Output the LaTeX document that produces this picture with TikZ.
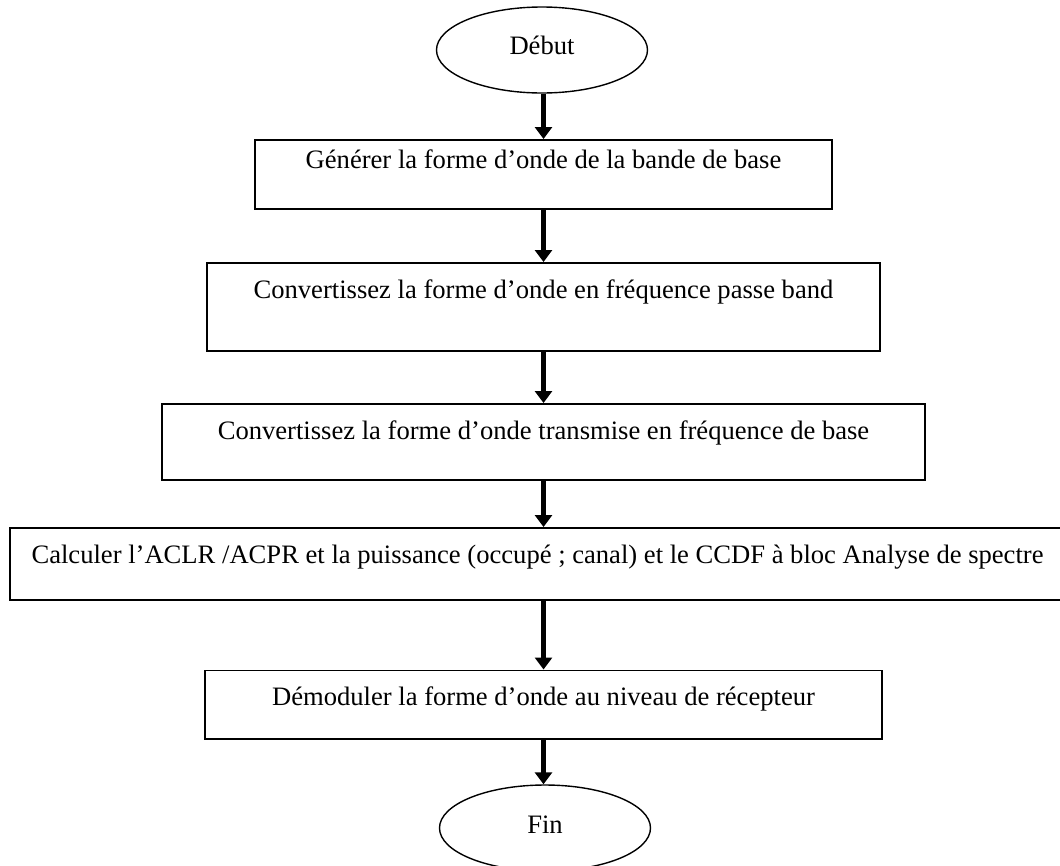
\documentclass[tikz,border=0pt]{standalone}
\usepackage{fontspec}
\setmainfont{Liberation Serif}
\usetikzlibrary{arrows.meta,shapes.geometric}
\begin{document}
\begin{tikzpicture}[x=1pt,y=-1pt,
  every node/.style={font=\fontsize{26.6}{30}\selectfont},
  stepbox/.style={draw,line width=1.8pt,rectangle,inner xsep=0pt,inner ysep=0pt,anchor=north},
  term/.style={draw,line width=1.4pt,ellipse,inner sep=0pt,minimum width=211pt,minimum height=86pt},
  flow/.style={line width=4.5pt,-{Triangle[length=12pt,width=17pt]}}]
\useasboundingbox (0,0) rectangle (1060,865);
\node[term,text height=18pt,text depth=10pt] (debut) at (542,50) {Début};
\node[stepbox,minimum width=577pt,text height=28.5pt,text depth=40.5pt] (b1) at (543.5,139) {Générer la forme d’onde de la bande de base};
\node[stepbox,minimum width=673pt,text height=36pt,text depth=52pt] (b2) at (543.5,262) {Convertissez la forme d’onde en fréquence passe band};
\node[stepbox,minimum width=763pt,text height=36pt,text depth=40pt] (b3) at (543.5,403) {Convertissez la forme d’onde transmise en fréquence de base};
\node[stepbox,minimum width=1055pt,text height=36pt,text depth=36pt] (b4) at (537.5,527) {Calculer l’ACLR /ACPR et la puissance (occupé ; canal) et le CCDF à bloc Analyse de spectre};
\node[stepbox,minimum width=677pt,text height=35.5pt,text depth=33pt] (b5) at (543.5,669.5) {Démoduler la forme d’onde au niveau de récepteur};
\node[term,text height=18pt,text depth=8pt] (fin) at (545,828) {Fin};
\draw[flow] (b1.north |- debut.south) -- (b1.north);
\draw[flow] (b1.south) -- (b2.north);
\draw[flow] (b2.south) -- (b3.north);
\draw[flow] (b3.south) -- (b3.south |- b4.north);
\draw[flow] (b5.north |- b4.south) -- (b5.north);
\draw[flow] (b5.south) -- (b5.south |- fin.north);
\end{tikzpicture}
\end{document}
